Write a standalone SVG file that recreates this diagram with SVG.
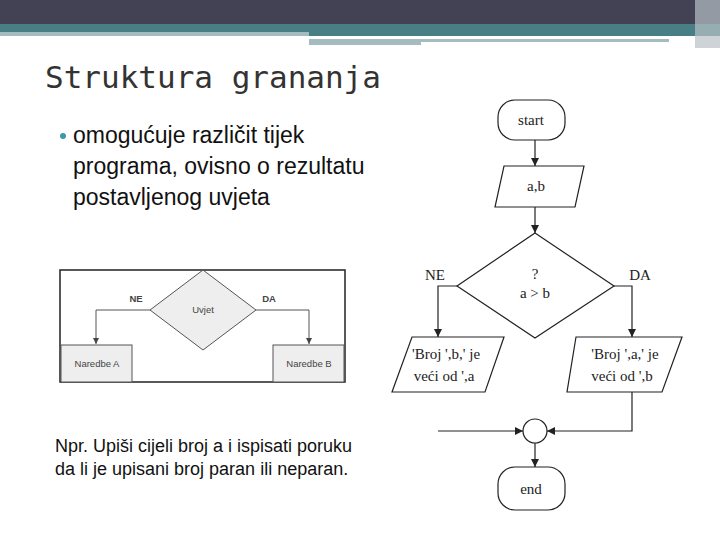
<svg xmlns="http://www.w3.org/2000/svg" width="720" height="540" viewBox="0 0 720 540">
<defs>
<style>
.s{fill:none;stroke:#222;stroke-width:1.2}
.f{fill:#fff;stroke:#222;stroke-width:1.2}
.t{font-family:"Liberation Serif",serif;font-size:15px;fill:#222;text-anchor:middle}
.g{fill:#eee;stroke:#555;stroke-width:1}
.l{fill:none;stroke:#555;stroke-width:1}
.u{font-family:"Liberation Sans",sans-serif;font-size:9.5px;fill:#444;text-anchor:middle}
</style>
<marker id="a" viewBox="0 0 10 10" refX="10" refY="5" markerWidth="7" markerHeight="7" orient="auto"><path d="M0,0L10,5L0,10z" fill="#222"/></marker>
<marker id="b" viewBox="0 0 10 10" refX="10" refY="5" markerWidth="6" markerHeight="6" orient="auto"><path d="M0,0L10,5L0,10z" fill="#444"/></marker>
</defs>
<rect width="720" height="540" fill="#fff"/>
<rect x="0" y="0" width="720" height="24" fill="#424254"/>
<rect x="0" y="24" width="720" height="8" fill="#477f84"/>
<rect x="0" y="32" width="309" height="4" fill="#a4bcbf"/>
<rect x="309" y="32" width="411" height="4" fill="#477f84"/>
<rect x="309" y="39" width="360" height="3" fill="#a4bcbf"/>
<rect x="309" y="42" width="112" height="3" fill="#a4bcbf"/>
<rect x="695" y="0" width="25" height="48" fill="#b8c0c4" opacity="0.7"/>
<text x="45" y="88" font-family="'DejaVu Sans Mono',monospace" font-size="31" fill="#333">Struktura grananja</text>
<circle cx="63" cy="136" r="3" fill="#3b9aa6"/>
<g font-family="'Liberation Sans',sans-serif" font-size="23" fill="#111">
<text x="73" y="143">omogućuje različit tijek</text>
<text x="73" y="174">programa, ovisno o rezultatu</text>
<text x="73" y="205">postavljenog uvjeta</text>
</g>
<g font-family="'Liberation Sans',sans-serif" font-size="18" fill="#111">
<text x="55" y="452">Npr. Upiši cijeli broj a i ispisati poruku</text>
<text x="55" y="475">da li je upisani broj paran  ili neparan.</text>
</g>
<g id="small">
<rect x="60" y="270" width="285" height="112" fill="#fff" stroke="#222" stroke-width="1.5"/>
<path class="l" d="M150,310H96V344" marker-end="url(#b)"/>
<path class="l" d="M256,310H309V344" marker-end="url(#b)"/>
<polygon class="g" points="203,270 256,310 203,350 150,310" fill="#e6e6e6"/>
<text class="u" x="203" y="313">Uvjet</text>
<text class="u" x="136" y="302" font-weight="bold">NE</text>
<text class="u" x="269" y="302" font-weight="bold">DA</text>
<rect class="g" x="61" y="345" width="71" height="37"/>
<text class="u" x="97" y="367">Naredbe A</text>
<rect class="g" x="273" y="345" width="71" height="37"/>
<text class="u" x="309" y="367">Naredbe B</text>
</g>
<g id="connectors">
<path class="s" d="M535,140V166" marker-end="url(#a)"/>
<path class="s" d="M535,207V233" marker-end="url(#a)"/>
<path class="s" d="M457,286H438V337" marker-end="url(#a)"/>
<path class="s" d="M614,286H632V337" marker-end="url(#a)"/>
<path class="s" d="M632,392V431H547" marker-end="url(#a)"/>
<path class="s" d="M438,431H523" marker-end="url(#a)"/>
<path class="s" d="M535,443V467" marker-end="url(#a)"/>
</g>
<g id="start"><rect class="f" x="498" y="100" width="67" height="40" rx="17"/><text class="t" x="531" y="125">start</text></g>
<g id="input"><polygon class="f" points="504,166 584,166 575,207 495,207"/><text class="t" x="536" y="191">a,b</text></g>
<g id="cond"><polygon class="f" points="535,233 614,286 535,338 457,286"/><text class="t" x="535" y="279">?</text><text class="t" x="535" y="298">a &gt; b</text></g>
<text class="t" x="435" y="280">NE</text>
<text class="t" x="640" y="280">DA</text>
<g id="outNE"><polygon class="f" points="412,337 504,337 485,392 392,392"/><text class="t" x="446" y="359">'Broj ',b,' je</text><text class="t" x="444" y="381">veći od ',a</text></g>
<g id="outDA"><polygon class="f" points="576,337 682,337 662,392 567,392"/><text class="t" x="625" y="359">'Broj ',a,' je</text><text class="t" x="622" y="381">veći od ',b</text></g>
<g id="join"><circle class="f" cx="535" cy="431" r="12"/></g>
<g id="end"><rect class="f" x="498" y="467" width="67" height="43" rx="17"/><text class="t" x="531" y="494">end</text></g>
</svg>
